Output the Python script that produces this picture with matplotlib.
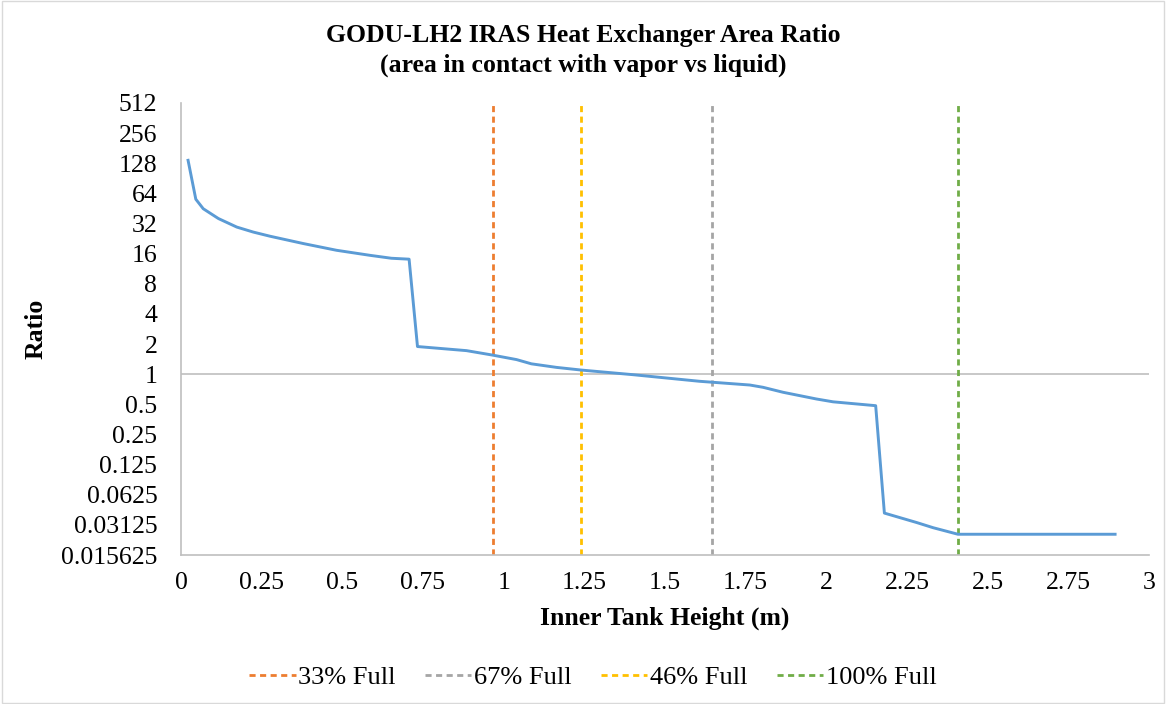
import matplotlib
matplotlib.use("Agg")
import matplotlib.pyplot as plt
from matplotlib.patches import Rectangle

plt.rcParams['font.family'] = ['Liberation Serif', 'DejaVu Serif']

# curve
height = [0.022, 0.046, 0.069, 0.116, 0.173, 0.224, 0.276, 0.379, 0.482, 0.586,
          0.652, 0.707, 0.733, 0.885, 0.962, 1.040, 1.086, 1.164, 1.241, 1.400,
          1.607, 1.763, 1.804, 1.866, 1.969, 2.021, 2.153, 2.180, 2.280, 2.331,
          2.408, 2.895]
ratio = [137, 56, 45, 35.9, 29.5, 26.3, 23.9, 20.2, 17.3, 15.4,
         14.4, 14.1, 1.89, 1.72, 1.56, 1.40, 1.27, 1.17, 1.10, 0.99,
         0.85, 0.78, 0.74, 0.66, 0.566, 0.53, 0.485, 0.041, 0.033, 0.0293,
         0.0252, 0.0252]

fill_labels = ['33% Full', '67% Full', '46% Full', '100% Full']
fill_heights = [0.967, 1.645, 1.240, 2.408]
fill_colors = ['#ED7D31', '#A5A5A5', '#FFC000', '#70AD47']

yticks = [2.0 ** k for k in range(-6, 10)]
ytick_labels = ['0.015625', '0.03125', '0.0625', '0.125', '0.25', '0.5', '1', '2',
                '4', '8', '16', '32', '64', '128', '256', '512']
xticks = [0, 0.25, 0.5, 0.75, 1, 1.25, 1.5, 1.75, 2, 2.25, 2.5, 2.75, 3]
xtick_labels = ['0', '0.25', '0.5', '0.75', '1', '1.25', '1.5', '1.75', '2',
                '2.25', '2.5', '2.75', '3']

fig = plt.figure(figsize=(11.66, 7.04), dpi=100)
fig.patches.append(Rectangle((0.002, 0.002), 0.996, 0.996, transform=fig.transFigure,
                             fill=False, edgecolor='#D9D9D9', linewidth=1))
ax = fig.add_axes([0.1552, 0.2116, 0.8302, 0.6421])

ax.set_yscale('log', base=2)
ax.set_ylim(2.0 ** -6, 2.0 ** 9)
ax.set_xlim(0, 3)

ax.axhline(1, color='#BFBFBF', linewidth=1.2, zorder=1)

handles = []
for lab, xv, col in zip(fill_labels, fill_heights, fill_colors):
    h = ax.axvline(xv, color=col, linestyle=(0, (2.2, 1.6)), linewidth=2.0,
                   label=lab, zorder=2)
    handles.append(h)

ax.plot(height, ratio, color='#5B9BD5', linewidth=2.1, zorder=3)

ax.set_yticks(yticks)
ax.set_yticklabels(ytick_labels)
ax.minorticks_off()
ax.set_xticks(xticks)
ax.set_xticklabels(xtick_labels)
ax.tick_params(axis='both', length=0, labelsize=18.5, colors='black')
ax.tick_params(axis='y', pad=17)
ax.tick_params(axis='x', pad=12)

for s in ['top', 'right']:
    ax.spines[s].set_visible(False)
for s in ['left', 'bottom']:
    ax.spines[s].set_color('#BFBFBF')
    ax.spines[s].set_linewidth(1.2)

ax.set_xlabel('Inner Tank Height (m)', fontsize=18.5, fontweight='bold', labelpad=9)
ax.set_ylabel('Ratio', fontsize=18.5, fontweight='bold', labelpad=10)

fig.text(0.5, 0.928, 'GODU-LH2 IRAS Heat Exchanger Area Ratio\n(area in contact with vapor vs liquid)',
         ha='center', va='center', fontsize=18.5, fontweight='bold', linespacing=1.35)

fig.legend(handles=handles, loc='center', bbox_to_anchor=(0.5086, 0.038), ncol=4,
           frameon=False, fontsize=19, handlelength=1.75, handletextpad=0.1,
           columnspacing=1.12)

fig.savefig('out.png', dpi=100)
